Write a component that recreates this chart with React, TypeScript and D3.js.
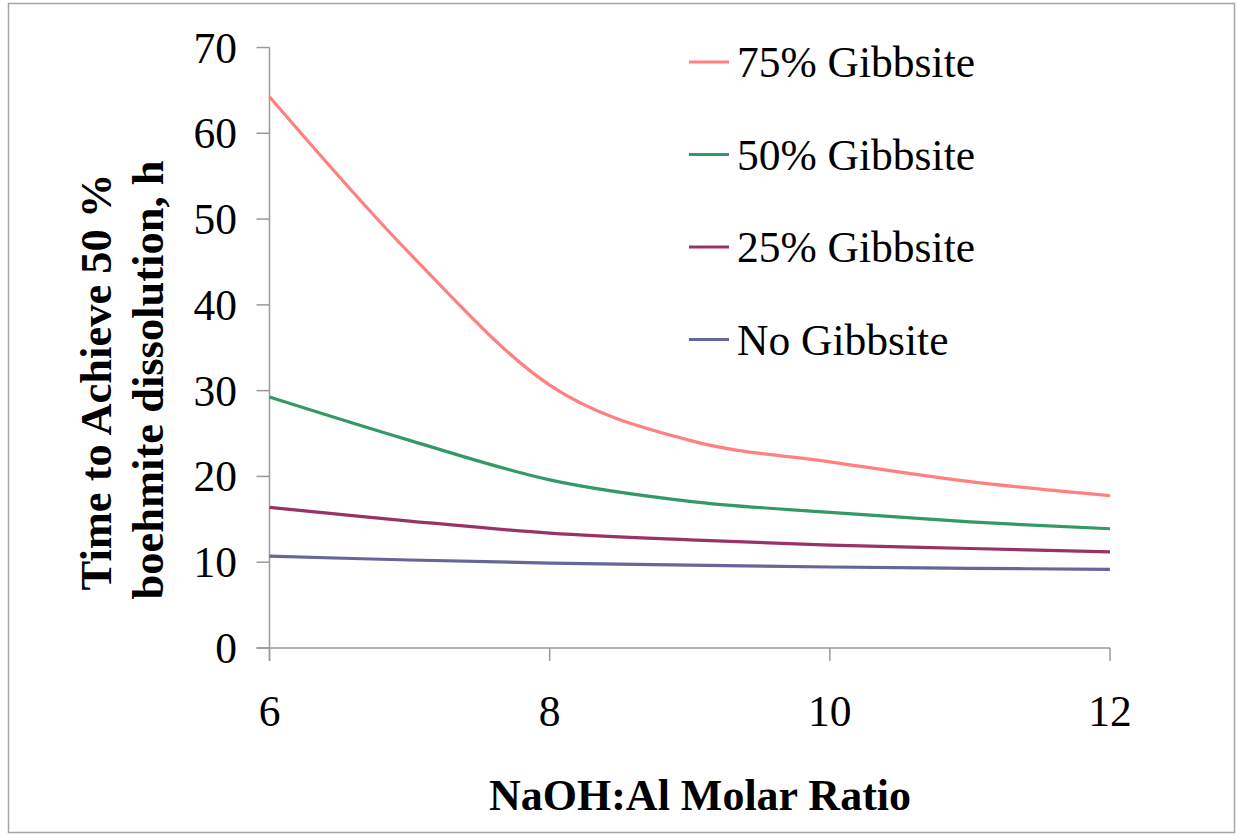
import React from "react";
import * as d3 from "d3";

const ratios = [6, 7, 8, 9, 10, 11, 12];
const gibbsite75 = [64.25, 46.0, 30.65, 24.2, 21.7, 19.4, 17.75];
const gibbsite50 = [29.25, 24.2, 19.6, 17.1, 15.8, 14.7, 13.9];
const gibbsite25 = [16.4, 14.8, 13.4, 12.6, 12.0, 11.6, 11.2];
const noGibbsite = [10.7, 10.26, 9.9, 9.67, 9.44, 9.29, 9.17];
const seriesNames = ["75% Gibbsite", "50% Gibbsite", "25% Gibbsite", "No Gibbsite"];
const seriesColors = ["#FF8080", "#339966", "#993366", "#666699"];
const xTicks = [6, 8, 10, 12];
const yTicks = [0, 10, 20, 30, 40, 50, 60, 70];

export default function App() {
  const W = 1238, H = 836;
  const x = d3.scaleLinear().domain([6, 12]).range([269.5, 1110]);
  const y = d3.scaleLinear().domain([0, 70]).range([648, 47.5]);
  const seriesData = [gibbsite75, gibbsite50, gibbsite25, noGibbsite];
  const line = d3
    .line<[number, number]>()
    .x((d) => x(d[0]))
    .y((d) => y(d[1]))
    .curve(d3.curveCardinal.tension(0));
  const font = "'Liberation Serif', 'Times New Roman', serif";
  const axisColor = "#9a9a9a";
  const legendX1 = 689, legendX2 = 729, legendY0 = 62, legendStep = 92.5;
  const fs = 43.5;

  return (
    <svg
      width={W}
      height={H}
      style={{ position: "absolute", left: 0, top: 0, background: "#fff" }}
      fontFamily={font}
    >
      <rect x={8.5} y={3.5} width={1226} height={829} fill="#fff" stroke="#a6a6a6" strokeWidth={1.5} />
      {/* axes */}
      <line x1={x(6)} x2={x(6)} y1={y(70)} y2={y(0) + 13} stroke={axisColor} strokeWidth={1.5} />
      <line x1={x(6) - 13} x2={x(12)} y1={y(0)} y2={y(0)} stroke={axisColor} strokeWidth={1.5} />
      {yTicks.map((t) => (
        <g key={"y" + t}>
          <line x1={x(6) - 13} x2={x(6)} y1={y(t)} y2={y(t)} stroke={axisColor} strokeWidth={1.5} />
          <text x={237} y={y(t) + 15} textAnchor="end" fontSize={fs} fill="#000">
            {t}
          </text>
        </g>
      ))}
      {xTicks.map((t) => (
        <g key={"x" + t}>
          <line x1={x(t)} x2={x(t)} y1={y(0)} y2={y(0) + 13} stroke={axisColor} strokeWidth={1.5} />
          <text x={x(t)} y={726} textAnchor="middle" fontSize={fs} fill="#000">
            {t}
          </text>
        </g>
      ))}
      {/* series */}
      {seriesData.map((vals, i) => (
        <path
          key={seriesNames[i]}
          d={line(ratios.map((r, j) => [r, vals[j]] as [number, number])) || ""}
          fill="none"
          stroke={seriesColors[i]}
          strokeWidth={3.2}
        />
      ))}
      {/* legend */}
      {seriesNames.map((name, i) => (
        <g key={"lg" + name}>
          <line
            x1={legendX1}
            x2={legendX2}
            y1={legendY0 + i * legendStep}
            y2={legendY0 + i * legendStep}
            stroke={seriesColors[i]}
            strokeWidth={3.2}
          />
          <text x={737} y={legendY0 + i * legendStep + 15} fontSize={fs} fill="#000">
            {name}
          </text>
        </g>
      ))}
      {/* axis titles */}
      <text x={700} y={810} textAnchor="middle" fontSize={44} fontWeight="bold" fill="#000">
        NaOH:Al Molar Ratio
      </text>
      <text transform="translate(111,382) rotate(-90)" textAnchor="middle" fontSize={44.5} fontWeight="bold" fill="#000">
        Time to Achieve 50 %
      </text>
      <text transform="translate(163,380) rotate(-90)" textAnchor="middle" fontSize={44.5} fontWeight="bold" fill="#000">
        boehmite dissolution, h
      </text>
    </svg>
  );
}
